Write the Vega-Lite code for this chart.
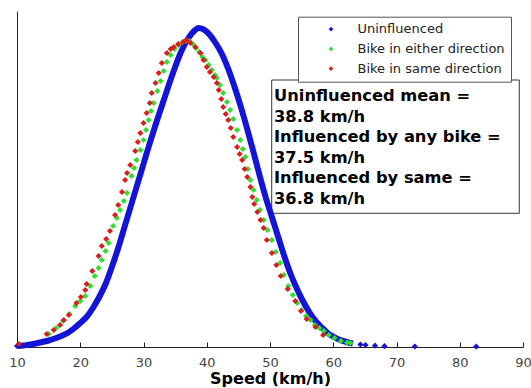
{
  "$schema": "https://vega.github.io/schema/vega-lite/v6.json",
  "width": 506,
  "height": 336,
  "autosize": {"type": "none"},
  "padding": {"left": 17, "top": 11, "right": 8, "bottom": 41},
  "background": "white",
  "config": {"view": {"stroke": null}, "font": "DejaVu Sans"},
  "datasets": {
    "curves": [
      {"series": "Uninfluenced", "speed": 10, "density": 0.00015},
      {"series": "Uninfluenced", "speed": 11, "density": 0.000225},
      {"series": "Uninfluenced", "speed": 12, "density": 0.000375},
      {"series": "Uninfluenced", "speed": 13, "density": 0.000525},
      {"series": "Uninfluenced", "speed": 14, "density": 0.00075},
      {"series": "Uninfluenced", "speed": 15, "density": 0.000975},
      {"series": "Uninfluenced", "speed": 16, "density": 0.001275},
      {"series": "Uninfluenced", "speed": 17, "density": 0.00165},
      {"series": "Uninfluenced", "speed": 18, "density": 0.0021},
      {"series": "Uninfluenced", "speed": 19, "density": 0.002775},
      {"series": "Uninfluenced", "speed": 20, "density": 0.0036},
      {"series": "Uninfluenced", "speed": 21, "density": 0.0045},
      {"series": "Uninfluenced", "speed": 22, "density": 0.00585},
      {"series": "Uninfluenced", "speed": 23, "density": 0.0075},
      {"series": "Uninfluenced", "speed": 24, "density": 0.00945},
      {"series": "Uninfluenced", "speed": 25, "density": 0.012},
      {"series": "Uninfluenced", "speed": 26, "density": 0.01485},
      {"series": "Uninfluenced", "speed": 27, "density": 0.018},
      {"series": "Uninfluenced", "speed": 28, "density": 0.02115},
      {"series": "Uninfluenced", "speed": 29, "density": 0.0243},
      {"series": "Uninfluenced", "speed": 30, "density": 0.02745},
      {"series": "Uninfluenced", "speed": 31, "density": 0.0306},
      {"series": "Uninfluenced", "speed": 32, "density": 0.0336},
      {"series": "Uninfluenced", "speed": 33, "density": 0.03645},
      {"series": "Uninfluenced", "speed": 34, "density": 0.0393},
      {"series": "Uninfluenced", "speed": 35, "density": 0.042},
      {"series": "Uninfluenced", "speed": 36, "density": 0.0444},
      {"series": "Uninfluenced", "speed": 37, "density": 0.0462},
      {"series": "Uninfluenced", "speed": 38, "density": 0.0474},
      {"series": "Uninfluenced", "speed": 38.7, "density": 0.04785},
      {"series": "Uninfluenced", "speed": 39.5, "density": 0.04763},
      {"series": "Uninfluenced", "speed": 40.5, "density": 0.0468},
      {"series": "Uninfluenced", "speed": 41.4, "density": 0.0456},
      {"series": "Uninfluenced", "speed": 42.4, "density": 0.04395},
      {"series": "Uninfluenced", "speed": 43.4, "density": 0.0417},
      {"series": "Uninfluenced", "speed": 44.4, "density": 0.039},
      {"series": "Uninfluenced", "speed": 45.4, "density": 0.036},
      {"series": "Uninfluenced", "speed": 46.35, "density": 0.03285},
      {"series": "Uninfluenced", "speed": 47.3, "density": 0.02955},
      {"series": "Uninfluenced", "speed": 48.3, "density": 0.02595},
      {"series": "Uninfluenced", "speed": 49.3, "density": 0.0225},
      {"series": "Uninfluenced", "speed": 50.3, "density": 0.0195},
      {"series": "Uninfluenced", "speed": 51.3, "density": 0.0165},
      {"series": "Uninfluenced", "speed": 52.25, "density": 0.01365},
      {"series": "Uninfluenced", "speed": 53.2, "density": 0.0111},
      {"series": "Uninfluenced", "speed": 54.2, "density": 0.00885},
      {"series": "Uninfluenced", "speed": 55.2, "density": 0.0069},
      {"series": "Uninfluenced", "speed": 56.2, "density": 0.00525},
      {"series": "Uninfluenced", "speed": 57.2, "density": 0.0039},
      {"series": "Uninfluenced", "speed": 58.1, "density": 0.003},
      {"series": "Uninfluenced", "speed": 59.1, "density": 0.0021},
      {"series": "Uninfluenced", "speed": 60.1, "density": 0.0015},
      {"series": "Uninfluenced", "speed": 61.1, "density": 0.00105},
      {"series": "Uninfluenced", "speed": 62.1, "density": 0.00075},
      {"series": "Uninfluenced", "speed": 63.1, "density": 0.000525},
      {"series": "Uninfluenced", "speed": 64.3, "density": 0.000375},
      {"series": "Uninfluenced", "speed": 65.1, "density": 0.0003},
      {"series": "Uninfluenced", "speed": 66.6, "density": 0.0002},
      {"series": "Uninfluenced", "speed": 68.1, "density": 0.00012},
      {"series": "Uninfluenced", "speed": 72.9, "density": 0.000075},
      {"series": "Uninfluenced", "speed": 82.6, "density": 0.00006},
      {"series": "Bike in either direction", "speed": 15.0, "density": 0.00195},
      {"series": "Bike in either direction", "speed": 16.2, "density": 0.00285},
      {"series": "Bike in either direction", "speed": 17.3, "density": 0.0039},
      {"series": "Bike in either direction", "speed": 18.3, "density": 0.00495},
      {"series": "Bike in either direction", "speed": 19.2, "density": 0.00615},
      {"series": "Bike in either direction", "speed": 20.0, "density": 0.0069},
      {"series": "Bike in either direction", "speed": 20.8, "density": 0.00765},
      {"series": "Bike in either direction", "speed": 21.6, "density": 0.00915},
      {"series": "Bike in either direction", "speed": 22.3, "density": 0.01065},
      {"series": "Bike in either direction", "speed": 22.9, "density": 0.01185},
      {"series": "Bike in either direction", "speed": 23.4, "density": 0.01305},
      {"series": "Bike in either direction", "speed": 24.0, "density": 0.0144},
      {"series": "Bike in either direction", "speed": 24.5, "density": 0.0156},
      {"series": "Bike in either direction", "speed": 25.2, "density": 0.01815},
      {"series": "Bike in either direction", "speed": 25.8, "density": 0.01935},
      {"series": "Bike in either direction", "speed": 26.3, "density": 0.02055},
      {"series": "Bike in either direction", "speed": 26.9, "density": 0.0219},
      {"series": "Bike in either direction", "speed": 27.4, "density": 0.0231},
      {"series": "Bike in either direction", "speed": 28.1, "density": 0.02565},
      {"series": "Bike in either direction", "speed": 28.5, "density": 0.02685},
      {"series": "Bike in either direction", "speed": 28.9, "density": 0.02805},
      {"series": "Bike in either direction", "speed": 29.5, "density": 0.02955},
      {"series": "Bike in either direction", "speed": 30.0, "density": 0.03105},
      {"series": "Bike in either direction", "speed": 30.4, "density": 0.03255},
      {"series": "Bike in either direction", "speed": 30.8, "density": 0.03405},
      {"series": "Bike in either direction", "speed": 31.2, "density": 0.0354},
      {"series": "Bike in either direction", "speed": 31.6, "density": 0.0366},
      {"series": "Bike in either direction", "speed": 32.2, "density": 0.0384},
      {"series": "Bike in either direction", "speed": 32.7, "density": 0.0399},
      {"series": "Bike in either direction", "speed": 33.2, "density": 0.0414},
      {"series": "Bike in either direction", "speed": 33.7, "density": 0.04275},
      {"series": "Bike in either direction", "speed": 34.3, "density": 0.0438},
      {"series": "Bike in either direction", "speed": 34.9, "density": 0.0447},
      {"series": "Bike in either direction", "speed": 35.5, "density": 0.0453},
      {"series": "Bike in either direction", "speed": 36.2, "density": 0.04575},
      {"series": "Bike in either direction", "speed": 36.8, "density": 0.0459},
      {"series": "Bike in either direction", "speed": 37.3, "density": 0.0459},
      {"series": "Bike in either direction", "speed": 37.8, "density": 0.04545},
      {"series": "Bike in either direction", "speed": 38.3, "density": 0.04485},
      {"series": "Bike in either direction", "speed": 38.8, "density": 0.04425},
      {"series": "Bike in either direction", "speed": 39.3, "density": 0.0435},
      {"series": "Bike in either direction", "speed": 39.8, "density": 0.04305},
      {"series": "Bike in either direction", "speed": 40.3, "density": 0.0423},
      {"series": "Bike in either direction", "speed": 40.8, "density": 0.04155},
      {"series": "Bike in either direction", "speed": 41.3, "density": 0.0408},
      {"series": "Bike in either direction", "speed": 41.6, "density": 0.04035},
      {"series": "Bike in either direction", "speed": 42.1, "density": 0.0393},
      {"series": "Bike in either direction", "speed": 42.6, "density": 0.0381},
      {"series": "Bike in either direction", "speed": 43.2, "density": 0.03675},
      {"series": "Bike in either direction", "speed": 43.7, "density": 0.03555},
      {"series": "Bike in either direction", "speed": 44.2, "density": 0.0342},
      {"series": "Bike in either direction", "speed": 44.8, "density": 0.03255},
      {"series": "Bike in either direction", "speed": 45.3, "density": 0.03105},
      {"series": "Bike in either direction", "speed": 45.7, "density": 0.0297},
      {"series": "Bike in either direction", "speed": 46.1, "density": 0.0285},
      {"series": "Bike in either direction", "speed": 46.5, "density": 0.0267},
      {"series": "Bike in either direction", "speed": 46.9, "density": 0.02505},
      {"series": "Bike in either direction", "speed": 47.4, "density": 0.02355},
      {"series": "Bike in either direction", "speed": 47.9, "density": 0.02205},
      {"series": "Bike in either direction", "speed": 48.4, "density": 0.02055},
      {"series": "Bike in either direction", "speed": 49.0, "density": 0.01905},
      {"series": "Bike in either direction", "speed": 49.6, "density": 0.01755},
      {"series": "Bike in either direction", "speed": 50.3, "density": 0.01605},
      {"series": "Bike in either direction", "speed": 50.9, "density": 0.01425},
      {"series": "Bike in either direction", "speed": 51.6, "density": 0.0126},
      {"series": "Bike in either direction", "speed": 52.2, "density": 0.0108},
      {"series": "Bike in either direction", "speed": 52.9, "density": 0.00915},
      {"series": "Bike in either direction", "speed": 53.6, "density": 0.0078},
      {"series": "Bike in either direction", "speed": 54.3, "density": 0.0066},
      {"series": "Bike in either direction", "speed": 55.0, "density": 0.00555},
      {"series": "Bike in either direction", "speed": 55.7, "density": 0.00465},
      {"series": "Bike in either direction", "speed": 56.4, "density": 0.00405},
      {"series": "Bike in either direction", "speed": 57.1, "density": 0.0033},
      {"series": "Bike in either direction", "speed": 57.8, "density": 0.00285},
      {"series": "Bike in either direction", "speed": 58.5, "density": 0.0024},
      {"series": "Bike in either direction", "speed": 59.3, "density": 0.0018},
      {"series": "Bike in either direction", "speed": 60.2, "density": 0.00135},
      {"series": "Bike in either direction", "speed": 61.2, "density": 0.0009},
      {"series": "Bike in either direction", "speed": 62.2, "density": 0.000675},
      {"series": "Bike in either direction", "speed": 62.7, "density": 0.0006},
      {"series": "Bike in same direction", "speed": 10.3, "density": 0.00045},
      {"series": "Bike in same direction", "speed": 14.7, "density": 0.00195},
      {"series": "Bike in same direction", "speed": 15.8, "density": 0.00255},
      {"series": "Bike in same direction", "speed": 16.8, "density": 0.0033},
      {"series": "Bike in same direction", "speed": 17.4, "density": 0.00405},
      {"series": "Bike in same direction", "speed": 18.2, "density": 0.0048},
      {"series": "Bike in same direction", "speed": 19.4, "density": 0.0066},
      {"series": "Bike in same direction", "speed": 20.1, "density": 0.0075},
      {"series": "Bike in same direction", "speed": 20.8, "density": 0.00855},
      {"series": "Bike in same direction", "speed": 21.0, "density": 0.00945},
      {"series": "Bike in same direction", "speed": 21.9, "density": 0.0114},
      {"series": "Bike in same direction", "speed": 22.9, "density": 0.01365},
      {"series": "Bike in same direction", "speed": 23.4, "density": 0.01515},
      {"series": "Bike in same direction", "speed": 24.1, "density": 0.0162},
      {"series": "Bike in same direction", "speed": 24.7, "density": 0.0174},
      {"series": "Bike in same direction", "speed": 25.5, "density": 0.0198},
      {"series": "Bike in same direction", "speed": 26.0, "density": 0.0213},
      {"series": "Bike in same direction", "speed": 26.6, "density": 0.02325},
      {"series": "Bike in same direction", "speed": 27.1, "density": 0.02505},
      {"series": "Bike in same direction", "speed": 27.4, "density": 0.0261},
      {"series": "Bike in same direction", "speed": 27.9, "density": 0.0273},
      {"series": "Bike in same direction", "speed": 28.7, "density": 0.0294},
      {"series": "Bike in same direction", "speed": 29.1, "density": 0.03075},
      {"series": "Bike in same direction", "speed": 29.5, "density": 0.0321},
      {"series": "Bike in same direction", "speed": 30.0, "density": 0.0336},
      {"series": "Bike in same direction", "speed": 30.5, "density": 0.0351},
      {"series": "Bike in same direction", "speed": 31.0, "density": 0.0366},
      {"series": "Bike in same direction", "speed": 31.3, "density": 0.0381},
      {"series": "Bike in same direction", "speed": 31.9, "density": 0.0396},
      {"series": "Bike in same direction", "speed": 32.4, "density": 0.0411},
      {"series": "Bike in same direction", "speed": 32.9, "density": 0.0426},
      {"series": "Bike in same direction", "speed": 33.7, "density": 0.0441},
      {"series": "Bike in same direction", "speed": 34.3, "density": 0.0447},
      {"series": "Bike in same direction", "speed": 34.8, "density": 0.045},
      {"series": "Bike in same direction", "speed": 35.5, "density": 0.04545},
      {"series": "Bike in same direction", "speed": 36.3, "density": 0.04575},
      {"series": "Bike in same direction", "speed": 36.85, "density": 0.04605},
      {"series": "Bike in same direction", "speed": 37.4, "density": 0.0456},
      {"series": "Bike in same direction", "speed": 38.2, "density": 0.045},
      {"series": "Bike in same direction", "speed": 39.0, "density": 0.0441},
      {"series": "Bike in same direction", "speed": 39.5, "density": 0.04305},
      {"series": "Bike in same direction", "speed": 40.0, "density": 0.042},
      {"series": "Bike in same direction", "speed": 40.5, "density": 0.04125},
      {"series": "Bike in same direction", "speed": 41.1, "density": 0.0405},
      {"series": "Bike in same direction", "speed": 41.6, "density": 0.0396},
      {"series": "Bike in same direction", "speed": 41.9, "density": 0.03855},
      {"series": "Bike in same direction", "speed": 42.3, "density": 0.0372},
      {"series": "Bike in same direction", "speed": 42.6, "density": 0.036},
      {"series": "Bike in same direction", "speed": 43.0, "density": 0.03495},
      {"series": "Bike in same direction", "speed": 43.4, "density": 0.03405},
      {"series": "Bike in same direction", "speed": 43.8, "density": 0.03285},
      {"series": "Bike in same direction", "speed": 44.2, "density": 0.0315},
      {"series": "Bike in same direction", "speed": 44.8, "density": 0.03},
      {"series": "Bike in same direction", "speed": 45.2, "density": 0.02895},
      {"series": "Bike in same direction", "speed": 45.6, "density": 0.02805},
      {"series": "Bike in same direction", "speed": 46.0, "density": 0.0267},
      {"series": "Bike in same direction", "speed": 46.4, "density": 0.0255},
      {"series": "Bike in same direction", "speed": 46.9, "density": 0.024},
      {"series": "Bike in same direction", "speed": 47.2, "density": 0.0225},
      {"series": "Bike in same direction", "speed": 47.5, "density": 0.02145},
      {"series": "Bike in same direction", "speed": 48.0, "density": 0.02025},
      {"series": "Bike in same direction", "speed": 48.5, "density": 0.01905},
      {"series": "Bike in same direction", "speed": 49.0, "density": 0.01785},
      {"series": "Bike in same direction", "speed": 49.5, "density": 0.01605},
      {"series": "Bike in same direction", "speed": 50.3, "density": 0.0141},
      {"series": "Bike in same direction", "speed": 51.0, "density": 0.0123},
      {"series": "Bike in same direction", "speed": 51.7, "density": 0.01065},
      {"series": "Bike in same direction", "speed": 52.8, "density": 0.0087},
      {"series": "Bike in same direction", "speed": 54.0, "density": 0.0069},
      {"series": "Bike in same direction", "speed": 54.9, "density": 0.0054},
      {"series": "Bike in same direction", "speed": 55.8, "density": 0.0042},
      {"series": "Bike in same direction", "speed": 57.2, "density": 0.003},
      {"series": "Bike in same direction", "speed": 58.4, "density": 0.0018}
    ]
  },
  "layer": [
    {
      "data": {"values": [{}]},
      "mark": {"type": "rect", "fill": "white", "stroke": "#333333", "strokeWidth": 1},
      "encoding": {
        "x": {"datum": 50.27, "type": "quantitative", "scale": {"domain": [10, 90], "nice": false, "zero": false}},
        "x2": {"datum": 89.41},
        "y": {"datum": 0.04005, "type": "quantitative", "scale": {"domain": [0, 0.0504], "nice": false}},
        "y2": {"datum": 0.020055}
      }
    },
    {
      "data": {"name": "curves"},
      "transform": [{"filter": "datum.series == 'Uninfluenced' && datum.speed <= 63.2"}],
      "mark": {"type": "line", "color": "#1414d8", "strokeWidth": 6, "interpolate": "monotone"},
      "encoding": {
        "x": {"field": "speed", "type": "quantitative", "scale": {"domain": [10, 90], "nice": false, "zero": false}},
        "y": {"field": "density", "type": "quantitative", "scale": {"domain": [0, 0.0504], "nice": false}}
      }
    },
    {
      "data": {"name": "curves"},
      "transform": [{"filter": "datum.series != 'Uninfluenced' || datum.speed > 63.5 || datum.speed < 10.5"}],
      "mark": {"type": "point", "shape": "diamond", "filled": true, "size": 38, "opacity": 1},
      "encoding": {
        "x": {
          "field": "speed", "type": "quantitative",
          "scale": {"domain": [10, 90], "nice": false, "zero": false},
          "axis": {
            "values": [10, 20, 30, 40, 50, 60, 70, 80, 90],
            "title": "Speed (km/h)",
            "grid": false,
            "tickSize": -5,
            "tickColor": "#222222",
            "domainColor": "#222222",
            "labelColor": "#444444",
            "labelFont": "DejaVu Sans",
            "labelFontSize": 13,
            "labelPadding": 14,
            "labelFlush": false,
            "titleFont": "DejaVu Sans",
            "titleFontWeight": "bold",
            "titleFontSize": 16,
            "titleColor": "black",
            "titlePadding": 1
          }
        },
        "y": {
          "field": "density", "type": "quantitative",
          "scale": {"domain": [0, 0.0504], "nice": false},
          "axis": {"ticks": false, "labels": false, "title": null, "grid": false, "domainColor": "#222222"}
        },
        "color": {
          "field": "series", "type": "nominal",
          "sort": ["Uninfluenced", "Bike in either direction", "Bike in same direction"],
          "scale": {"domain": ["Uninfluenced", "Bike in either direction", "Bike in same direction"], "range": ["#1414d8", "#2ee02e", "#d81e1e"]},
          "legend": {
            "orient": "none",
            "legendX": 281,
            "legendY": 5.7,
            "title": null,
            "strokeColor": "#555555",
            "fillColor": "white",
            "padding": 6,
            "symbolType": "diamond",
            "symbolSize": 22,
            "symbolStrokeWidth": 0,
            "symbolOffset": 20.5,
            "labelOffset": 20,
            "labelFont": "DejaVu Sans",
            "labelFontSize": 13,
            "labelColor": "#222222",
            "labelLimit": 200,
            "rowPadding": 5.7
          }
        }
      }
    },
    {
      "data": {"values": [{}]},
      "mark": {"type": "text", "align": "left", "baseline": "alphabetic", "font": "DejaVu Sans", "fontWeight": "bold", "fontSize": 16.3, "lineHeight": 20.6, "color": "black"},
      "encoding": {
        "x": {"datum": 50.63, "type": "quantitative"},
        "y": {"datum": 0.0369, "type": "quantitative"},
        "text": {"value": ["Uninfluenced mean =", "38.8 km/h", "Influenced by any bike =", "37.5 km/h", "Influenced by same =", "36.8 km/h"]}
      }
    }
  ]
}
